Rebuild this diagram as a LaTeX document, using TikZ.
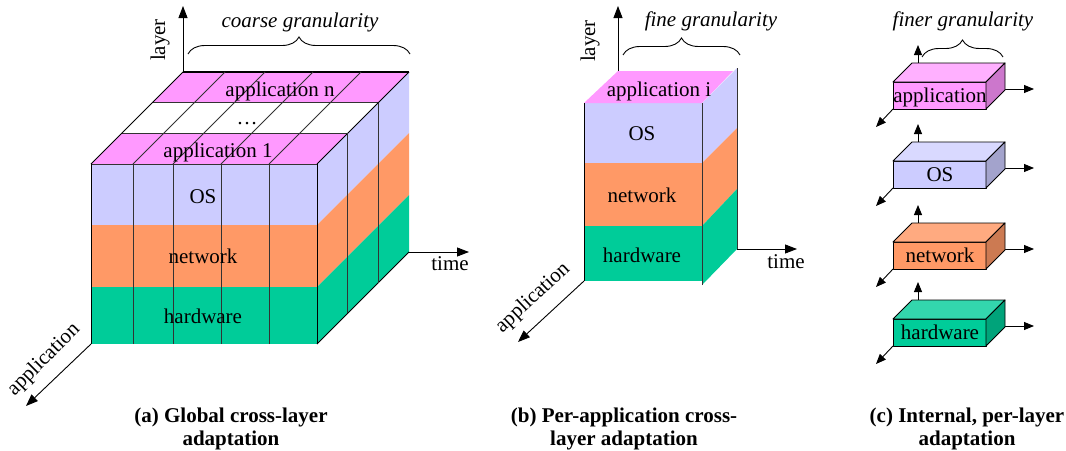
\documentclass[tikz,border=0pt]{standalone}
\usepackage{fontspec}
\setmainfont{Liberation Serif}
\usetikzlibrary{arrows.meta,decorations.pathreplacing,calc}
\definecolor{appc}{HTML}{FF99FF}
\definecolor{osc}{HTML}{CCCCFF}
\definecolor{netc}{HTML}{FF9966}
\definecolor{hwc}{HTML}{00CC99}
\definecolor{appt}{HTML}{FFB0FF}
\definecolor{apps}{HTML}{CC77CC}
\definecolor{ost}{HTML}{D9D9FF}
\definecolor{oss}{HTML}{A3A3CC}
\definecolor{nett}{HTML}{FFAA80}
\definecolor{nets}{HTML}{CC7A52}
\definecolor{hwt}{HTML}{33D6AD}
\definecolor{hws}{HTML}{00A37A}
\begin{document}
\begin{tikzpicture}[x=1pt,y=-1pt,line width=0.9pt,
  txt/.style={font=\fontsize{21}{24}\selectfont,inner sep=0pt,anchor=base},
  ital/.style={font=\fontsize{21}{24}\selectfont\itshape,inner sep=0pt,anchor=base},
  captxt/.style={font=\fontsize{21}{23}\selectfont\bfseries,inner sep=0pt,anchor=base},
  axisarrow/.style={-{Triangle[length=12pt,width=9pt]},line width=0.9pt},
  smallarrow/.style={-{Triangle[length=10pt,width=8pt]},line width=0.9pt},
  brc/.style={decorate,decoration={brace,amplitude=17pt},line width=0.9pt},
  edgeline/.style={line width=0.9pt},
  gridline/.style={line width=0.9pt,black!80},
]
\useasboundingbox (0,0) rectangle (1066,450);

% ================= panel (a) =================
\coordinate (aFTL) at (91,164);
\coordinate (aFTR) at (317,164);
\coordinate (aFBL) at (91,344);
\coordinate (aFBR) at (317,344);
\coordinate (aBTL) at (183,72);
\coordinate (aBTR) at (409,72);
\coordinate (aBBR) at (409,252);
% front face
\fill[osc] (91,164) rectangle (317,225);
\fill[netc] (91,225) rectangle (317,287);
\fill[hwc] (91,287) rectangle (317,344);
% right face
\fill[osc] (317,164) -- (409,72) -- (409,133) -- (317,225) -- cycle;
\fill[netc] (317,225) -- (409,133) -- (409,195) -- (317,287) -- cycle;
\fill[hwc] (317,287) -- (409,195) -- (409,252) -- (317,344) -- cycle;
% top rows
\fill[appc] (aFTL) -- (aFTR) -- ($(aFTR)!1/3!(aBTR)$) -- ($(aFTL)!1/3!(aBTL)$) -- cycle;
\fill[white] ($(aFTL)!1/3!(aBTL)$) -- ($(aFTR)!1/3!(aBTR)$) -- ($(aFTR)!2/3!(aBTR)$) -- ($(aFTL)!2/3!(aBTL)$) -- cycle;
\fill[appc] ($(aFTL)!2/3!(aBTL)$) -- ($(aFTR)!2/3!(aBTR)$) -- (aBTR) -- (aBTL) -- cycle;
% grid on top
\foreach \f in {0,1/3,2/3}
  \draw[gridline] ($(aFTL)!\f!(aBTL)$) -- ($(aFTR)!\f!(aBTR)$);
\draw[line width=1.4pt] (aBTL) -- (aBTR);
\foreach \xx in {133,173,221,269} {
  \draw[gridline] (\xx,164) -- (\xx,344);
  \draw[gridline] (\xx,164) -- (\xx+92,72);
}
\draw[edgeline] (aFTL) -- (aBTL);
\draw[edgeline] (aFTR) -- (aBTR);
\draw[edgeline] (aFTL) -- (aFBL);
\draw[edgeline] (aFTR) -- (aFBR);
\draw[edgeline] (aFBR) -- (aBBR);
% right-face depth divisions
\draw[gridline] ($(aFTR)!1/3!(aBTR)$) -- ++(0,180);
\draw[gridline] ($(aFTR)!2/3!(aBTR)$) -- ++(0,180);
% texts
\node[txt] (aAppN) at (280,96) {application n};
\node[txt] (aDots) at (247,124) {\dots};
\node[txt] (aApp1) at (218,157) {application 1};
\node[txt] (aOS) at (203,203) {OS};
\node[txt] (aNet) at (203,263) {network};
\node[txt] (aHw) at (203,323) {hardware};
% axes
\coordinate (aLayerTip) at (183,6);
\coordinate (aTimeTip) at (469,252);
\coordinate (aAppTip) at (26,406);
\draw[axisarrow] (aBTL) -- (aLayerTip);
\draw[axisarrow] (aBBR) -- (aTimeTip);
\draw[axisarrow] (aFBL) -- (aAppTip);
\node[txt,rotate=90] (aLayerLbl) at (165,40) {layer};
\node[txt] (aTimeLbl) at (450,270) {time};
\node[txt,rotate=45,anchor=center] (aAppLbl) at (44,360) {application};
% brace
\coordinate (aBrL) at (188,54);
\coordinate (aBrR) at (410,54);
\draw[brc] (aBrL) -- (aBrR);
\node[ital] (aGran) at (300,27) {coarse granularity};
% caption
\node[captxt] (capA1) at (231,422) {(a) Global cross-layer};
\node[captxt] (capA2) at (231,445) {adaptation};

% ================= panel (b) =================
\coordinate (bFTL) at (584,103);
\coordinate (bFTR) at (702,103);
\coordinate (bFBL) at (584,281);
\coordinate (bFBR) at (702,281);
\coordinate (bBTL) at (618,71);
\coordinate (bBTR) at (737,70);
\coordinate (bBBR) at (737,249);
\fill[osc] (584,103) rectangle (702,163);
\fill[netc] (584,163) rectangle (702,226);
\fill[hwc] (584,226) rectangle (702,281);
\fill[osc] (702,103) -- (737,68) -- (737,128) -- (702,163) -- cycle;
\fill[netc] (702,163) -- (737,128) -- (737,189) -- (702,226) -- cycle;
\fill[hwc] (702,226) -- (737,189) -- (737,249) -- (702,285) -- cycle;
\fill[appc] (bFTL) -- (bBTL) -- (733,71) -- (bFTR) -- cycle;
\draw[edgeline] (bFTL) -- (bFBL);
\draw[gridline] (bFTR) -- (702,285);
\draw[gridline] (737,68) -- (bBBR);
\node[txt] (bApp) at (659,96) {application i};
\node[txt] (bOS) at (642,140) {OS};
\node[txt] (bNet) at (642,202) {network};
\node[txt] (bHw) at (642,262) {hardware};
\coordinate (bLayerTip) at (618,6);
\coordinate (bTimeTip) at (797,249);
\coordinate (bAppTip) at (518,342);
\draw[axisarrow] (bBTL) -- (bLayerTip);
\draw[axisarrow] (bBBR) -- (bTimeTip);
\draw[axisarrow] (bFBL) -- (bAppTip);
\node[txt,rotate=90] (bLayerLbl) at (595,41) {layer};
\node[txt] (bTimeLbl) at (786,268) {time};
\node[txt,rotate=43,anchor=center] (bAppLbl) at (533,298) {application};
\coordinate (bBrL) at (623,55);
\coordinate (bBrR) at (740,55);
\draw[brc] (bBrL) -- (bBrR);
\node[ital] (bGran) at (711,26) {fine granularity};
\node[captxt] (capB1) at (624,422) {(b) Per-application cross-};
\node[captxt] (capB2) at (624,445) {layer adaptation};

% ================= panel (c) =================
\foreach \yy/\fc/\tc/\sc/\lab/\nm in {82/appc/appt/apps/application/app,161/osc/ost/oss/OS/os,242/netc/nett/nets/network/net,319/hwc/hwt/hws/hardware/hw} {
  \coordinate (c\nm FBL) at (893,\yy+27);
  \coordinate (c\nm BT) at (918,\yy-19);
  \coordinate (c\nm RS) at (1005,\yy+7);
  \coordinate (c\nm UpTip) at (918,\yy-37);
  \coordinate (c\nm RtTip) at (1034,\yy+7);
  \coordinate (c\nm DnTip) at (876,\yy+45);
  \draw[smallarrow] (c\nm BT) -- (c\nm UpTip);
  \draw[smallarrow] (c\nm RS) -- (c\nm RtTip);
  \draw[smallarrow] (c\nm FBL) -- (c\nm DnTip);
  \filldraw[fill=\fc,edgeline,line join=round] (893,\yy) rectangle (986,\yy+27);
  \filldraw[fill=\tc,edgeline,line join=round] (893,\yy) -- (912,\yy-19) -- (1005,\yy-19) -- (986,\yy) -- cycle;
  \filldraw[fill=\sc,edgeline,line join=round] (986,\yy) -- (1005,\yy-19) -- (1005,\yy+8) -- (986,\yy+27) -- cycle;
  \node[txt] (c\nm Lbl) at (940,\yy+20) {\lab};
}
\coordinate (cBrL) at (922,57);
\coordinate (cBrR) at (1003,57);
\draw[brc] (cBrL) -- (cBrR);
\node[ital] (cGran) at (963,26) {finer granularity};
\node[captxt] (capC1) at (967,422) {(c) Internal, per-layer};
\node[captxt] (capC2) at (967,445) {adaptation};
\end{tikzpicture}
\end{document}
